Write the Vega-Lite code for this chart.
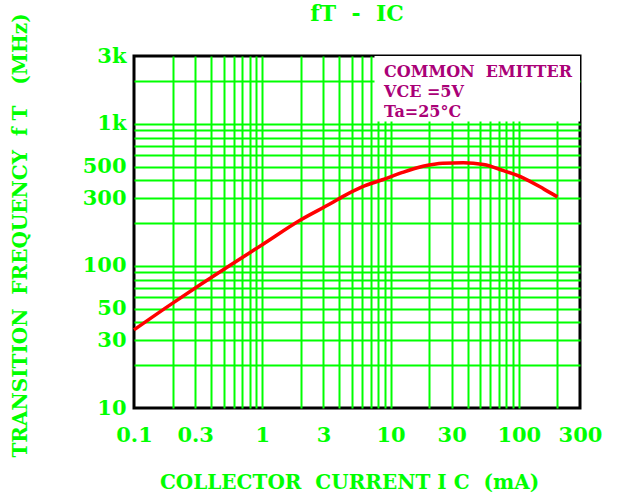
{
  "$schema": "https://vega.github.io/schema/vega-lite/v6.json",
  "autosize": {"type": "none"},
  "padding": {"left": 134, "top": 56, "right": 40, "bottom": 89},
  "width": 446,
  "height": 352,
  "background": "white",
  "config": {
    "view": {"stroke": "black", "strokeWidth": 3}
  },
  "title": {
    "text": "fT\u00a0\u00a0-\u00a0\u00a0IC",
    "font": "DejaVu Serif",
    "fontSize": 22,
    "fontWeight": "bold",
    "color": "#00ff00",
    "anchor": "middle",
    "frame": "group",
    "baseline": "bottom",
    "offset": 0,
    "dy": 35
  },
  "layer": [
    {
      "data": {
        "values": [
          {"ic": 0.1, "ft": 35.5},
          {"ic": 0.19, "ft": 53},
          {"ic": 0.33, "ft": 74},
          {"ic": 0.57, "ft": 102},
          {"ic": 1.0, "ft": 141},
          {"ic": 2.0, "ft": 211},
          {"ic": 3.5, "ft": 278},
          {"ic": 4.2, "ft": 306},
          {"ic": 6.0, "ft": 360},
          {"ic": 8.65, "ft": 404},
          {"ic": 12.4, "ft": 455},
          {"ic": 17.9, "ft": 502},
          {"ic": 25.6, "ft": 528},
          {"ic": 37, "ft": 531},
          {"ic": 53, "ft": 517},
          {"ic": 76, "ft": 468},
          {"ic": 109, "ft": 415},
          {"ic": 157, "ft": 347},
          {"ic": 200, "ft": 306}
        ]
      },
      "mark": {"type": "line", "color": "#ff0000", "strokeWidth": 3.5, "interpolate": "monotone"},
      "encoding": {
        "x": {
          "field": "ic",
          "type": "quantitative",
          "scale": {"type": "log", "domain": [0.1, 300], "nice": false},
          "axis": {
            "title": "COLLECTOR\u00a0\u00a0CURRENT\u00a0I\u00a0C\u00a0\u00a0(mA)",
            "values": [0.1, 0.2, 0.3, 0.4, 0.5, 0.6, 0.7, 0.8, 0.9, 1, 2, 3, 4, 5, 6, 7, 8, 9, 10, 20, 30, 40, 50, 60, 70, 80, 90, 100, 200, 300],
            "labelExpr": "datum.value == 0.1 ? '0.1' : datum.value == 0.3 ? '0.3' : datum.value == 1 ? '1' : datum.value == 3 ? '3' : datum.value == 10 ? '10' : datum.value == 30 ? '30' : datum.value == 100 ? '100' : datum.value == 300 ? '300' : ''",
            "grid": true,
            "gridColor": "#00ff00",
            "gridWidth": 2,
            "gridOpacity": {"condition": {"test": "datum.value == 0.1 || datum.value == 300", "value": 0}, "value": 1},
            "ticks": false,
            "domain": false,
            "labelFont": "DejaVu Serif",
            "labelFontWeight": "bold",
            "labelFontSize": 21,
            "labelColor": "#00ff00",
            "labelPadding": 16,
            "labelOverlap": false,
            "labelBound": false,
            "labelFlush": false,
            "titleFont": "DejaVu Serif",
            "titleFontWeight": "bold",
            "titleFontSize": 20,
            "titleColor": "#00ff00",
            "titleX": 215,
            "titleY": 74,
            "titleBaseline": "middle"
          }
        },
        "y": {
          "field": "ft",
          "type": "quantitative",
          "scale": {"type": "log", "domain": [10, 3000], "nice": false},
          "axis": {
            "title": "TRANSITION\u00a0\u00a0FREQUENCY\u00a0\u00a0f\u00a0T\u00a0\u00a0\u00a0(MHz)",
            "values": [10, 20, 30, 40, 50, 60, 70, 80, 90, 100, 200, 300, 400, 500, 600, 700, 800, 900, 1000, 2000, 3000],
            "labelExpr": "datum.value == 1000 ? '1k' : datum.value == 3000 ? '3k' : (datum.value == 10 || datum.value == 30 || datum.value == 50 || datum.value == 100 || datum.value == 300 || datum.value == 500) ? '' + datum.value : ''",
            "grid": true,
            "gridColor": "#00ff00",
            "gridWidth": 2,
            "gridOpacity": {"condition": {"test": "datum.value == 10 || datum.value == 3000", "value": 0}, "value": 1},
            "ticks": false,
            "domain": false,
            "labelFont": "DejaVu Serif",
            "labelFontWeight": "bold",
            "labelFontSize": 21,
            "labelColor": "#00ff00",
            "labelPadding": 8,
            "labelOverlap": false,
            "labelBound": false,
            "labelFlush": false,
            "titleFont": "DejaVu Serif",
            "titleFontWeight": "bold",
            "titleFontSize": 20,
            "titleColor": "#00ff00",
            "titleX": -114,
            "titleY": 179,
            "titleAngle": -90,
            "titleBaseline": "middle"
          }
        }
      }
    },
    {
      "data": {"values": [{}]},
      "mark": {"type": "rect", "color": "white", "opacity": 1},
      "encoding": {
        "x": {"datum": 7.5},
        "x2": {"datum": 300},
        "y": {"datum": 1040},
        "y2": {"datum": 3000}
      }
    },
    {
      "data": {"values": [{}]},
      "mark": {
        "type": "text",
        "text": ["COMMON\u00a0\u00a0EMITTER", "VCE\u00a0=5V", "Ta=25°C"],
        "align": "left",
        "baseline": "top",
        "font": "DejaVu Serif",
        "fontWeight": "bold",
        "fontSize": 16,
        "lineHeight": 20,
        "color": "#aa0077"
      },
      "encoding": {
        "x": {"datum": 8.9},
        "y": {"datum": 2650}
      }
    }
  ]
}
